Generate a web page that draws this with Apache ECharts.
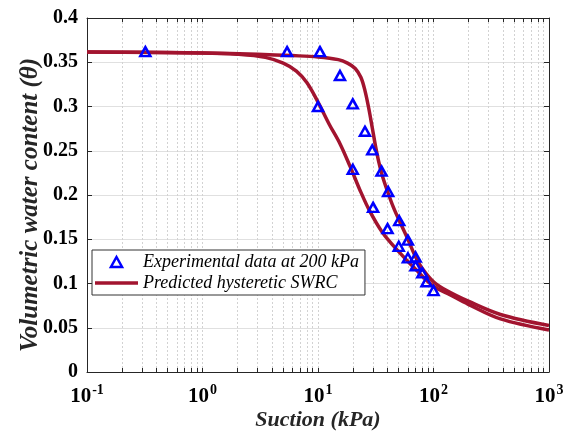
<!DOCTYPE html>
<html>
<head>
<meta charset="utf-8">
<script src="https://cdn.jsdelivr.net/npm/echarts@6/dist/echarts.min.js"></script>
<style>
  html, body { margin: 0; padding: 0; background: #fff; }
  #chart { width: 567px; height: 432px; }
</style>
</head>
<body>
<div id="chart"></div>
<script>
// Measured points (suction in kPa, volumetric water content)
const suctionMeasured = [0.32, 5.4, 10.4, 10, 15.5, 20, 20, 25.5, 29.5, 30, 35.5, 40.5, 40, 50.5, 50, 60, 60, 70, 70, 80, 87, 100];
const thetaMeasured   = [0.362, 0.362, 0.362, 0.300, 0.335, 0.303, 0.229, 0.272, 0.251, 0.186, 0.227, 0.204, 0.162, 0.171, 0.142, 0.149, 0.129, 0.130, 0.120, 0.112, 0.102, 0.092];

// Predicted drying branch
const suctionDrying = [0.1, 0.5, 1, 3, 6, 10, 15, 18, 21, 23.5, 25.5, 27.5, 29.5, 31.5, 33.5, 36, 40, 45, 51, 60, 70, 80, 100, 130, 200, 380, 1000];
const thetaDrying   = [0.3615, 0.361, 0.3605, 0.359, 0.3575, 0.356, 0.353, 0.349, 0.343, 0.333, 0.318, 0.298, 0.276, 0.255, 0.238, 0.222, 0.204, 0.186, 0.170, 0.150, 0.130, 0.117, 0.102, 0.092, 0.080, 0.065, 0.0525];

// Predicted wetting branch
const suctionWetting = [0.1, 1, 2, 3.5, 5, 6.5, 8, 10, 12.5, 15.5, 19, 23, 28, 36, 50, 70, 100, 140, 200, 380, 1000];
const thetaWetting   = [0.3615, 0.3605, 0.359, 0.3555, 0.349, 0.340, 0.327, 0.305, 0.28, 0.258, 0.232, 0.206, 0.182, 0.158, 0.136, 0.116, 0.097, 0.087, 0.0765, 0.060, 0.0475];

// Axis ticks
const xLabelTicks = [0.1, 1, 10, 100, 1000];
const xDecades = [0.1, 1, 10, 100];
const xMinorSteps = [1, 2, 3, 4, 5, 6, 7, 8, 9];

const legendMeasured = 'Experimental data at 200 kPa';
const legendPredicted = 'Predicted hysteretic SWRC';

const xTickValues = [];
xDecades.forEach(d => xMinorSteps.forEach(k => xTickValues.push(parseFloat((k * d).toPrecision(3)))));
xTickValues.push(1000);

const serif = '"Liberation Serif", "Times New Roman", serif';
const axisColor = '#262626';
const curveColor = '#a2142f';
const markerColor = '#0000ff';

// Legend glyphs: an outlined triangle and a short thick bar standing for the curve
const triangleIcon = 'path://M5,0 L10,9 L0,9 Z';
const lineIcon = 'path://M0,0 H43 V3.5 H0 Z';

const zip = (xs, ys) => xs.map((x, i) => [x, ys[i]]);

const chart = echarts.init(document.getElementById('chart'), null, { renderer: 'canvas' });

const baseX = {
  type: 'log',
  logBase: 10,
  min: 0.1,
  max: 1000,
  axisLine: { show: true, onZero: false, lineStyle: { color: axisColor, width: 1 } },
  axisTick: { show: true, inside: true, length: 4, customValues: xTickValues, lineStyle: { color: axisColor } }
};

const baseY = {
  type: 'value',
  min: 0,
  max: 0.4,
  interval: 0.05,
  axisLine: { show: true, onZero: false, lineStyle: { color: axisColor, width: 1 } },
  axisTick: { show: true, inside: true, length: 5, lineStyle: { color: axisColor } }
};

chart.setOption({
  animation: false,
  backgroundColor: '#fff',
  grid: { left: 87, right: 18, top: 18, bottom: 60, containLabel: false, outerBoundsMode: 'none' },
  xAxis: [
    Object.assign({}, baseX, {
      position: 'bottom',
      axisLabel: {
        customValues: xLabelTicks,
        margin: 11,
        formatter: v => '{b|10}{s|' + Math.round(Math.log10(v)) + '}',
        rich: {
          b: { fontFamily: serif, fontWeight: 'bold', fontSize: 21, color: '#000', lineHeight: 24, verticalAlign: 'bottom' },
          s: { fontFamily: serif, fontWeight: 'bold', fontSize: 14, color: '#000', lineHeight: 24, verticalAlign: 'top', padding: [0, 0, 0, 1] }
        }
      },
      splitLine: { show: true, lineStyle: { color: '#d2d2d2', width: 1, type: [2, 2] } },
      name: 'Suction (kPa)',
      nameLocation: 'middle',
      nameGap: 37,
      nameMoveOverlap: false,
      nameTextStyle: { fontFamily: serif, fontWeight: 'bold', fontStyle: 'italic', fontSize: 22, color: '#262626' }
    }),
    Object.assign({}, baseX, {
      position: 'top',
      axisLabel: { show: false },
      splitLine: { show: false }
    })
  ],
  yAxis: [
    Object.assign({}, baseY, {
      position: 'left',
      axisLabel: { fontFamily: serif, fontWeight: 'bold', fontSize: 20, color: '#000', margin: 9 },
      splitLine: { show: true, lineStyle: { color: '#e0e0e0', width: 1 } },
      name: 'Volumetric water content (θ)',
      nameLocation: 'middle',
      nameGap: 44,
      nameRotate: 90,
      nameMoveOverlap: false,
      nameTextStyle: { fontFamily: serif, fontWeight: 'bold', fontStyle: 'italic', fontSize: 25, color: '#262626', padding: [0, 20, 0, 0] }
    }),
    Object.assign({}, baseY, {
      position: 'right',
      axisLabel: { show: false },
      splitLine: { show: false }
    })
  ],
  legend: {
    orient: 'vertical',
    left: 92,
    top: 250,
    padding: [3, 6, 3, 3],
    itemGap: 3,
    itemWidth: 43,
    itemHeight: 10,
    symbolKeepAspect: true,
    selectedMode: false,
    backgroundColor: '#fff',
    borderColor: '#333',
    borderWidth: 1,
    borderRadius: 0,
    textStyle: { fontFamily: serif, fontStyle: 'italic', fontSize: 18, color: '#000' },
    data: [
      { name: legendMeasured, icon: triangleIcon, itemStyle: { color: 'rgba(255,255,255,0)', borderColor: markerColor, borderWidth: 2.5, opacity: 1 } },
      { name: legendPredicted, icon: lineIcon, itemStyle: { color: curveColor, borderWidth: 0, opacity: 1 } }
    ]
  },
  series: [
    {
      name: legendPredicted,
      type: 'line',
      data: zip(suctionDrying, thetaDrying),
      showSymbol: false,
      symbol: 'none',
      smooth: 0.35,
      lineStyle: { color: curveColor, width: 3.5 },
      itemStyle: { color: curveColor },
      z: 2
    },
    {
      name: legendPredicted,
      type: 'line',
      data: zip(suctionWetting, thetaWetting),
      showSymbol: false,
      symbol: 'none',
      smooth: 0.35,
      lineStyle: { color: curveColor, width: 3.5 },
      itemStyle: { color: curveColor },
      z: 2
    },
    {
      name: legendMeasured,
      type: 'scatter',
      data: zip(suctionMeasured, thetaMeasured),
      symbol: 'triangle',
      symbolSize: [10, 9],
      itemStyle: { color: 'rgba(255,255,255,0)', borderColor: markerColor, borderWidth: 2.5, opacity: 1 },
      z: 5
    }
  ]
});
</script>
</body>
</html>
